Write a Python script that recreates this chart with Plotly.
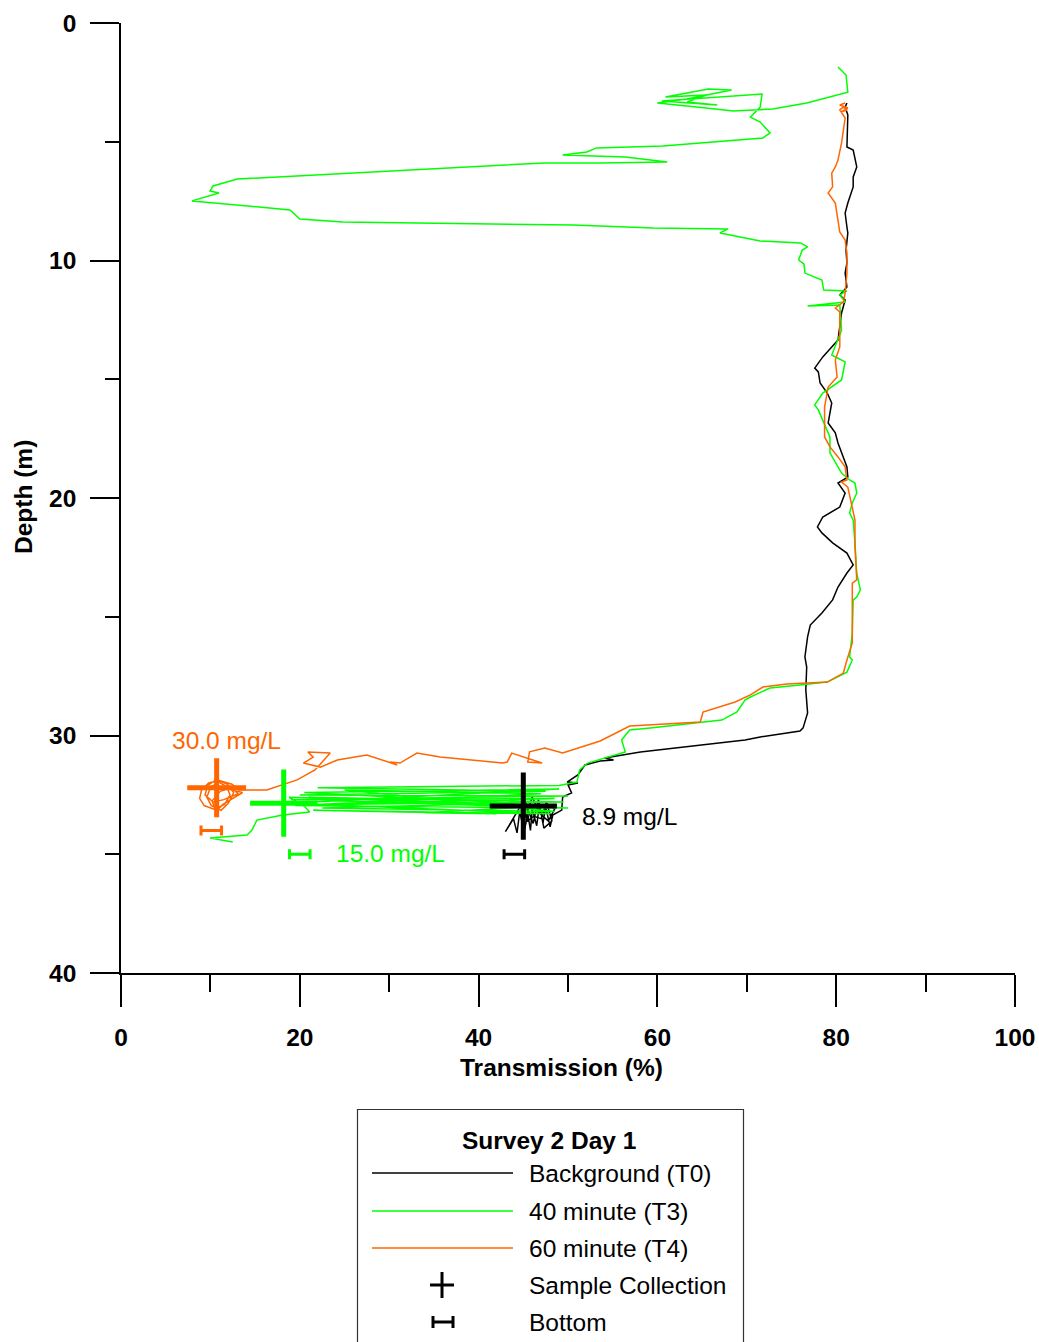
import plotly.graph_objects as go

# ---------------- data (Transmission %, Depth m) ----------------
t0_trans = [81.2, 81.0, 81.3, 81.2, 81.9, 82.3, 81.9, 81.9, 81.3, 81.0, 81.2, 81.3, 81.1, 81.2, 81.0, 81.2,
            80.4, 81.0, 80.6, 80.2, 79.5, 78.5, 77.6, 78.0, 78.2, 79.0, 79.5, 79.1, 79.9, 80.2, 81.2, 81.3,
            80.2, 81.0, 80.4, 78.5, 77.9, 78.4, 79.6, 81.2, 81.9, 81.2, 80.2, 79.6, 78.4, 77.1, 76.8, 76.5,
            76.7, 76.6, 76.8, 76.3, 75.95, 71.5, 69.8, 64.8, 58.1, 54.1, 55.1, 53.6, 51.9, 51.1, 49.9, 51.1,
            50.0, 50.4, 49.4, 49.3, 48.3, 48.0, 47.5, 47.2, 46.8, 46.5, 46.0, 45.8, 45.3, 45.0, 44.6, 44.3,
            43.9, 43.0, 44.2, 44.8, 45.5, 46.2, 47.0, 47.6, 48.2, 47.3, 46.7, 46.1, 45.6, 45.1, 44.7, 45.3,
            46.0, 46.9, 47.8, 48.5, 47.9]
t0_depth = [3.37, 3.54, 3.87, 5.22, 5.35, 6.06, 6.48, 6.9, 7.58, 8.0, 8.59, 8.84, 9.56, 10.1, 10.53, 11.12,
            11.45, 11.66, 12.21, 13.35, 13.64, 14.06, 14.53, 14.69, 15.16, 15.58, 16.0, 16.84, 17.26, 17.68, 18.69, 19.12,
            19.37, 19.79, 20.38, 20.8, 21.22, 21.47, 21.89, 22.32, 22.82, 23.16, 23.75, 24.29, 24.84, 25.35, 25.85, 26.69,
            27.12, 28.08, 29.05, 29.68, 29.81, 30.06, 30.19, 30.4, 30.69, 30.95, 31.03, 31.07, 31.24, 31.66, 31.96, 32.0,
            32.08, 32.42, 32.59, 33.14, 33.35, 33.85, 33.0, 33.7, 32.9, 33.8, 33.1, 34.0, 32.8, 33.9, 33.2, 34.1,
            33.5, 34.05, 33.3, 32.9, 33.6, 33.4, 33.5, 32.8, 33.6, 33.9, 32.7, 33.7, 33.2, 34.0, 32.9, 33.4,
            32.6, 33.3, 33.6, 33.1, 32.9]

t3_trans = [80.2, 81.1, 81.3, 76.7, 72.9, 68.5, 64.4, 60.0, 63.3, 68.3, 65.7, 60.9, 65.5, 63.3, 66.7, 60.5,
            71.7, 71.5, 70.4, 71.5, 72.6, 71.8, 60.6, 53.2, 52.1, 49.4, 56.4, 61.1, 53.6, 47.4, 13.0, 10.3,
            9.96, 10.96, 7.94, 18.9, 20.0, 24.8, 50.6, 59.5, 67.9, 67.0, 71.5, 76.0, 76.8, 76.2, 75.8, 76.4,
            76.5, 78.4, 78.6, 81.2, 80.4, 81.0, 76.8, 80.4, 80.6, 79.5, 81.0, 80.6, 78.5, 77.6, 78.0, 78.5,
            79.3, 79.3, 80.6, 81.5, 82.1, 82.3, 81.8, 81.5, 81.9, 82.1, 82.3, 82.7, 82.3, 81.9, 81.8, 81.5,
            81.8, 81.2, 79.0, 75.95, 72.6, 70.4, 69.8, 68.9, 67.2, 59.2, 56.9, 56.0, 56.4, 52.2, 51.3, 51.0,
            49.0, 22.0, 47.5, 20.0, 50.0, 19.0, 48.5, 23.0, 49.5, 21.0, 46.0, 24.0, 50.0, 19.5, 47.0, 25.0,
            48.5, 22.5, 44.0, 20.5, 49.0, 19.0, 48.0, 21.5, 42.0, 34.0, 48.8, 18.8,
            20.6, 21.1, 18.1, 15.2, 14.65, 14.1, 9.96, 12.5]
t3_depth = [1.85, 2.19, 2.91, 3.37, 3.62, 3.71, 3.54, 3.37, 3.2, 2.82, 2.78, 3.12, 3.03, 3.33, 3.45, 3.28,
            2.99, 3.54, 3.96, 4.17, 4.63, 4.84, 5.18, 5.26, 5.43, 5.56, 5.64, 5.85, 5.89, 5.89, 6.57, 6.86,
            7.07, 7.16, 7.49, 7.87, 8.25, 8.38, 8.51, 8.63, 8.67, 8.84, 9.18, 9.26, 9.43, 9.56, 9.98, 10.15,
            10.53, 10.82, 11.24, 11.28, 11.45, 11.75, 11.92, 11.87, 12.93, 13.98, 14.27, 15.03, 15.58, 16.08, 16.29, 16.72,
            17.43, 18.1, 18.95, 19.24, 19.37, 19.79, 20.21, 20.63, 20.93, 21.89, 23.16, 23.87, 24.17, 24.29, 25.68, 26.69,
            26.82, 27.33, 27.75, 27.87, 28.0, 28.38, 28.51, 29.01, 29.35, 29.68, 29.77, 30.19, 30.69, 31.16, 31.45, 31.96,
            32.1, 32.2, 32.35, 32.5, 32.55, 32.7, 32.65, 32.9, 32.8, 32.6, 33.0, 32.75, 33.05, 32.95, 32.45, 32.3,
            33.2, 33.05, 32.85, 32.4, 32.25, 32.85, 33.3, 33.15, 33.3, 33.25, 32.95, 32.6,
            33.01, 33.22, 33.35, 33.56, 33.98, 34.19, 34.32, 34.48]

t4_trans = [81.0, 80.4, 81.3, 80.5, 81.2, 80.8, 80.4, 81.0, 80.6, 80.2, 79.9, 79.5, 79.6, 79.1, 79.9, 80.2,
            80.4, 81.0, 81.2, 81.2, 81.0, 80.8, 79.9, 80.4, 80.4, 79.9, 80.1, 79.1, 78.7, 78.7, 79.3, 80.2,
            81.0, 81.2, 80.6, 81.3, 81.8, 82.1, 82.1, 82.3, 81.8, 81.8, 81.2, 80.8, 79.0, 74.5, 71.8, 70.4,
            68.7, 65.1, 64.8, 56.9, 53.6, 49.4, 47.4, 45.7, 45.5, 47.1, 43.7, 43.2, 42.7, 35.7, 33.1, 31.2,
            30.1, 30.9, 27.5, 24.2, 22.3, 20.4, 21.5, 20.9, 23.4, 21.7, 19.7, 17.0, 16.3, 13.1,
            13.3, 12.4, 11.0, 9.8, 9.0, 8.8, 9.3, 10.4, 11.6, 12.2, 11.8, 10.9, 10.0, 9.6, 10.1, 11.2,
            12.0, 12.6, 11.9, 10.7, 9.7, 9.4, 10.3, 11.5, 13.1, 12.3, 11.1, 10.2, 10.6, 11.4, 13.6, 12.4]
t4_depth = [3.37, 3.45, 3.58, 3.75, 3.66, 3.54, 3.66, 4.0, 5.05, 5.77, 6.06, 6.32, 6.9, 7.16, 7.58, 8.29,
            8.8, 9.14, 9.68, 10.53, 11.37, 11.75, 12.0, 12.17, 13.64, 14.19, 14.9, 15.33, 16.17, 17.43, 17.85, 18.27,
            18.69, 19.24, 19.33, 19.54, 20.38, 20.93, 22.06, 23.45, 23.58, 26.1, 26.82, 27.37, 27.75, 27.83, 27.96, 28.29,
            28.59, 29.01, 29.43, 29.6, 30.23, 30.74, 30.53, 30.69, 31.12, 31.16, 30.74, 31.12, 31.16, 30.91, 30.74, 31.16,
            31.12, 31.24, 30.82, 31.03, 31.33, 31.16, 30.91, 30.69, 30.74, 31.45, 31.87, 32.21, 32.29, 32.29,
            32.29, 32.05, 31.9, 32.0, 32.3, 32.65, 32.95, 33.1, 32.9, 32.5, 32.15, 31.95, 32.2, 32.6, 32.95, 33.15,
            32.85, 32.4, 32.05, 31.85, 32.1, 32.5, 32.8, 32.7, 32.45, 32.2, 32.35, 32.75, 33.2, 32.9, 32.4, 32.3]

# sample collection points (T0, T3, T4)
sample_trans = [45.0, 18.2, 10.7]
sample_depth = [32.97, 32.85, 32.2]
# bottom markers (T0, T3, T4)
bottom_trans = [44.0, 20.0, 10.1]
bottom_depth = [35.0, 35.0, 34.0]
# concentration labels
conc_labels = ["8.9 mg/L", "15.0 mg/L", "30.0 mg/L"]
conc_trans = [51.3, 23.8, 5.5]
conc_depth = [33.39, 34.95, 30.23]

series_names = ["Background (T0)", "40 minute (T3)", "60 minute (T4)"]
colors = ["#000000", "#00ff00", "#ff6600"]
cross_sizes = [48, 48, 42]

FONT = "Liberation Sans, Arial, sans-serif"
FS = 24.5

fig = go.Figure()
for tx, dy, c, n in [(t0_trans, t0_depth, colors[0], series_names[0]),
                     (t3_trans, t3_depth, colors[1], series_names[1]),
                     (t4_trans, t4_depth, colors[2], series_names[2])]:
    fig.add_trace(go.Scatter(x=tx, y=dy, mode="lines", name=n,
                             line=dict(color=c, width=1.5), showlegend=False))

for i in range(3):
    fig.add_trace(go.Scatter(x=[sample_trans[i]], y=[sample_depth[i]], mode="markers",
                             marker=dict(symbol="cross-thin", size=cross_sizes[i],
                                         line=dict(color=colors[i], width=5)),
                             showlegend=False, name="Sample Collection"))
    fig.add_trace(go.Scatter(x=[bottom_trans[i]], y=[bottom_depth[i]], mode="markers",
                             marker=dict(size=0.1, color=colors[i]),
                             error_x=dict(type="constant", value=1.15, width=5, thickness=3,
                                          color=colors[i]),
                             showlegend=False, name="Bottom"))
    fig.add_annotation(x=conc_trans[i], y=conc_depth[i], text=conc_labels[i], showarrow=False,
                       xanchor="left", yanchor="middle",
                       font=dict(family=FONT, size=FS, color=colors[i]))

# ---------------- axes ----------------
W, H = 1039, 1342
L, R, T, B = 121, 1015, 23, 973

def px(x):
    return (x - L) / (R - L)

def py(y):
    return (B - y) / (B - T)

fig.update_xaxes(range=[0, 100], dtick=20, tick0=0, showgrid=False, zeroline=False, automargin=False,
                 showline=True, linecolor="black", linewidth=1.5,
                 ticks="outside", ticklen=32, tickwidth=1.5, tickcolor="black",
                 ticklabelstandoff=10,
                 tickfont=dict(family=FONT, size=FS, color="black", weight="bold"),
                 minor=dict(dtick=10, tick0=0, ticks="outside", ticklen=17, tickwidth=1.5,
                            tickcolor="black", showgrid=False))
fig.update_yaxes(range=[40, 0], autorange=False, dtick=10, tick0=0, showgrid=False, zeroline=False,
                 automargin=False,
                 showline=True, linecolor="black", linewidth=1.5,
                 ticks="outside", ticklen=29, tickwidth=1.5, tickcolor="black",
                 ticklabelstandoff=9,
                 tickfont=dict(family=FONT, size=FS, color="black", weight="bold"),
                 minor=dict(dtick=5, tick0=0, ticks="outside", ticklen=14, tickwidth=1.5,
                            tickcolor="black", showgrid=False))

# axis titles
fig.add_annotation(x=px(561), y=py(1067), xref="paper", yref="paper", text="<b>Transmission (%)</b>",
                   showarrow=False, xanchor="center", yanchor="middle",
                   font=dict(family=FONT, size=FS, color="black"))
fig.add_annotation(x=px(24), y=py(497), xref="paper", yref="paper", text="<b>Depth (m)</b>",
                   showarrow=False, textangle=-90, xanchor="center", yanchor="middle",
                   font=dict(family=FONT, size=FS, color="black"))

# ---------------- manual legend ----------------
shapes = []
shapes.append(dict(type="rect", xref="paper", yref="paper", x0=px(357.5), x1=px(743.5),
                   y0=py(1360), y1=py(1109.5), line=dict(color="#333333", width=1.2),
                   fillcolor="rgba(0,0,0,0)"))
fig.add_annotation(x=px(549), y=py(1140), xref="paper", yref="paper", text="<b>Survey 2 Day 1</b>",
                   showarrow=False, xanchor="center", yanchor="middle",
                   font=dict(family=FONT, size=FS, color="black"))
leg_rows = [1173, 1211, 1248, 1285, 1322]
leg_labels = series_names + ["Sample Collection", "Bottom"]
for k in range(3):
    shapes.append(dict(type="line", xref="paper", yref="paper", x0=px(372), x1=px(513),
                       y0=py(leg_rows[k]), y1=py(leg_rows[k]), line=dict(color=colors[k], width=1.5)))
# cross symbol
shapes.append(dict(type="line", xref="paper", yref="paper", x0=px(442), x1=px(442),
                   y0=py(leg_rows[3] - 13), y1=py(leg_rows[3] + 13), line=dict(color="black", width=3)))
shapes.append(dict(type="line", xref="paper", yref="paper", x0=px(430), x1=px(454),
                   y0=py(leg_rows[3]), y1=py(leg_rows[3]), line=dict(color="black", width=3)))
# bottom symbol
shapes.append(dict(type="line", xref="paper", yref="paper", x0=px(433), x1=px(453),
                   y0=py(leg_rows[4]), y1=py(leg_rows[4]), line=dict(color="black", width=3)))
for xx in (433, 453):
    shapes.append(dict(type="line", xref="paper", yref="paper", x0=px(xx), x1=px(xx),
                       y0=py(leg_rows[4] - 6), y1=py(leg_rows[4] + 6), line=dict(color="black", width=3)))
for k, lab in enumerate(leg_labels):
    fig.add_annotation(x=px(527), y=py(leg_rows[k]), xref="paper", yref="paper", text=lab,
                       showarrow=False, xanchor="left", yanchor="middle",
                       font=dict(family=FONT, size=FS, color="black"))

fig.update_layout(width=W, height=H, margin=dict(l=L, r=W - R, t=T, b=H - B, autoexpand=False),
                  paper_bgcolor="white", plot_bgcolor="white", showlegend=False,
                  shapes=shapes, font=dict(family=FONT, size=FS, color="black"))

fig.write_html("out.html")
